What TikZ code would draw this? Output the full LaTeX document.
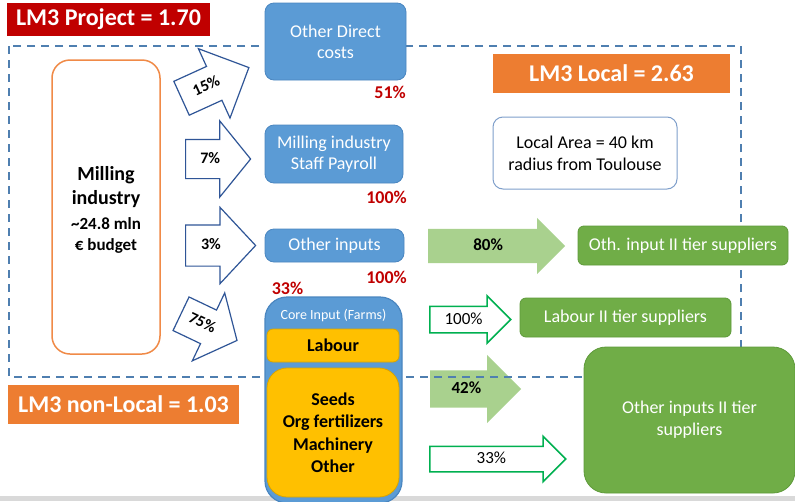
\documentclass[tikz,border=0pt]{standalone}
\usepackage{fontspec}
\setmainfont{Carlito}
\usetikzlibrary{shapes.arrows}
\definecolor{cred}{HTML}{C00000}
\definecolor{corange}{HTML}{ED7D31}
\definecolor{cmill}{HTML}{F08A47}
\definecolor{cblue}{HTML}{5B9BD5}
\definecolor{cblueD}{HTML}{4A86C0}
\definecolor{cgreen}{HTML}{70AD47}
\definecolor{cgreenD}{HTML}{5E9A3A}
\definecolor{clgreen}{HTML}{A9D18E}
\definecolor{cgline}{HTML}{00B050}
\definecolor{cnavy}{HTML}{2F5597}
\definecolor{cyellow}{HTML}{FFC000}
\definecolor{cyellowD}{HTML}{D9A400}
\definecolor{cdash}{HTML}{4F7FB0}
\definecolor{carea}{HTML}{7F9FCB}
\definecolor{cgray}{HTML}{D9D9D9}
\newcommand\fsz[2]{\fontsize{#1}{#2}\selectfont}
\begin{document}
\begin{tikzpicture}[x=1pt,y=-1pt,
  banner/.style={fill=#1, text=white, font=\fsz{24}{28}\bfseries, inner sep=0pt},
  bluebox/.style={fill=cblue, draw=cblueD, line width=0.8pt, rounded corners=9pt,
    text=white, align=center, font=\fsz{18}{21}, inner sep=0pt},
  ybox/.style={fill=cyellow, draw=cyellowD, line width=0.8pt, rounded corners=6pt,
    text=black, align=center, font=\fsz{18}{22.5}\bfseries, inner sep=0pt},
  gbox/.style={fill=cgreen, draw=cgreenD, line width=0.8pt, rounded corners=6pt,
    text=white, align=center, font=\fsz{18}{22}, inner sep=0pt},
  pct/.style={text=cred, font=\fsz{18}{21}\bfseries, inner sep=0pt},
  barrow/.style={single arrow, draw=cnavy, line width=1.2pt, fill=white,
    font=\fsz{16}{18}\bfseries, inner xsep=0pt, text height=11pt, text depth=3pt, anchor=tail},
  gfill/.style={single arrow, fill=clgreen, single arrow tip angle=90,
    font=\fsz{17}{20}\bfseries, inner xsep=0pt, text height=12pt, text depth=3pt, anchor=tail},
  gline/.style={single arrow, draw=cgline, line width=1.5pt, fill=white, single arrow tip angle=90,
    font=\fsz{17}{20}, inner xsep=0pt, text height=12pt, text depth=3pt, anchor=tail}
]
\useasboundingbox (0,0) rectangle (795,501);
\clip (0,0) rectangle (795,501);
\fill[white] (0,0) rectangle (795,501);
\fill[cgray] (0,496) rectangle (795,501);

% arrow under the dashed line
\node[gfill, minimum height=91, inner ysep=11pt, single arrow head extend=15.5] (g42) at (430,389) {42\%};

% local boundary
\draw[cdash, line width=2.5pt, dash pattern=on 8pt off 6pt] (9,46) rectangle (741,377);

% banners
\node[banner=cred, minimum width=203, minimum height=33] (proj) at (108.5,19.5) {LM3 Project = 1.70};
\node[banner=corange, minimum width=237, minimum height=39] (loc) at (611.5,73.5) {LM3 Local = 2.63};
\node[banner=corange, minimum width=231, minimum height=39] (nonloc) at (123.5,404.5) {LM3 non-Local = 1.03};

% milling industry
\node[draw=cmill, line width=1.5pt, fill=white, rounded corners=18pt, minimum width=108, minimum height=294,
  inner sep=0pt] (mill) at (106,207) {};
\node[align=center, font=\fsz{20}{24.5}\bfseries, inner sep=0pt] (milltxt) at (106,210)
  {Milling\\industry\\{\fsz{17}{20}\textasciitilde24.8 mln}\\[-3pt]{\fsz{17}{20}€ budget}};

% blue boxes
\node[bluebox, minimum width=141, minimum height=77] (odc) at (335.5,41.5) {Other Direct\\costs};
\node[bluebox, minimum width=138, minimum height=58] (pay) at (334,154) {Milling industry\\Staff Payroll};
\node[bluebox, minimum width=139, minimum height=33] (oin) at (334.5,245.5) {Other inputs};
\node[bluebox, rounded corners=22pt, line width=1.2pt, minimum width=137, minimum height=206] (core) at (333.5,400) {};
\node[text=white, font=\fsz{14}{16}, inner sep=0pt] (corelbl) at (333.5,316) {Core Input (Farms)};
\node[ybox, minimum width=132, minimum height=33] (lab) at (333,345.5) {Labour};
\node[ybox, rounded corners=20pt, minimum width=132, minimum height=129] (seeds) at (333,432.5)
  {Seeds\\Org fertilizers\\Machinery\\Other};

% red percentages
\node[pct, anchor=east] (p51) at (406,92) {51\%};
\node[pct, anchor=east] (p100a) at (407,197) {100\%};
\node[pct, anchor=east] (p100b) at (407,277) {100\%};
\node[pct] (p33) at (287.5,288) {33\%};

% local area
\node[draw=carea, line width=1pt, fill=white, rounded corners=10pt, minimum width=184, minimum height=72,
  align=center, font=\fsz{18}{22}, inner sep=0pt] (area) at (585,153) {Local Area = 40 km\\radius from Toulouse};

% block arrows from milling industry
\node[barrow, rotate=24.5, minimum height=74, inner ysep=11pt, single arrow head extend=19.5,
  single arrow tip angle=90] (a15) at (181,98.5) {15\%};
\node[barrow, minimum height=65, inner ysep=12pt, single arrow head extend=18.5,
  single arrow tip angle=102] (a7) at (185,159) {7\%};
\node[barrow, minimum height=70, inner ysep=13pt, single arrow head extend=17.5,
  single arrow tip angle=94] (a3) at (185,245.5) {3\%};
\node[barrow, rotate=-25.5, minimum height=62, inner ysep=11pt, single arrow head extend=19,
  single arrow tip angle=100] (a75) at (180.5,313.5) {75\%};

% second tier arrows
\node[gfill, minimum height=137, inner ysep=9.5pt, single arrow head extend=11] (g80) at (428,246) {80\%};
\node[gline, minimum height=81, inner ysep=5pt, single arrow head extend=10.5] (g100) at (429,319.5) {100\%};
\node[gline, minimum height=136, inner ysep=4.5pt, single arrow head extend=10] (g33) at (429,459) {33\%};

% green boxes
\node[gbox, minimum width=210, minimum height=39] (oth2) at (683,245.5) {Oth. input II tier suppliers};
\node[gbox, minimum width=211, minimum height=39] (lab2) at (625.5,317.5) {Labour II tier suppliers};
\node[gbox, rounded corners=22pt, minimum width=211, minimum height=146] (oin2) at (689.5,420)
  {Other inputs II tier\\suppliers};
\end{tikzpicture}
\end{document}
